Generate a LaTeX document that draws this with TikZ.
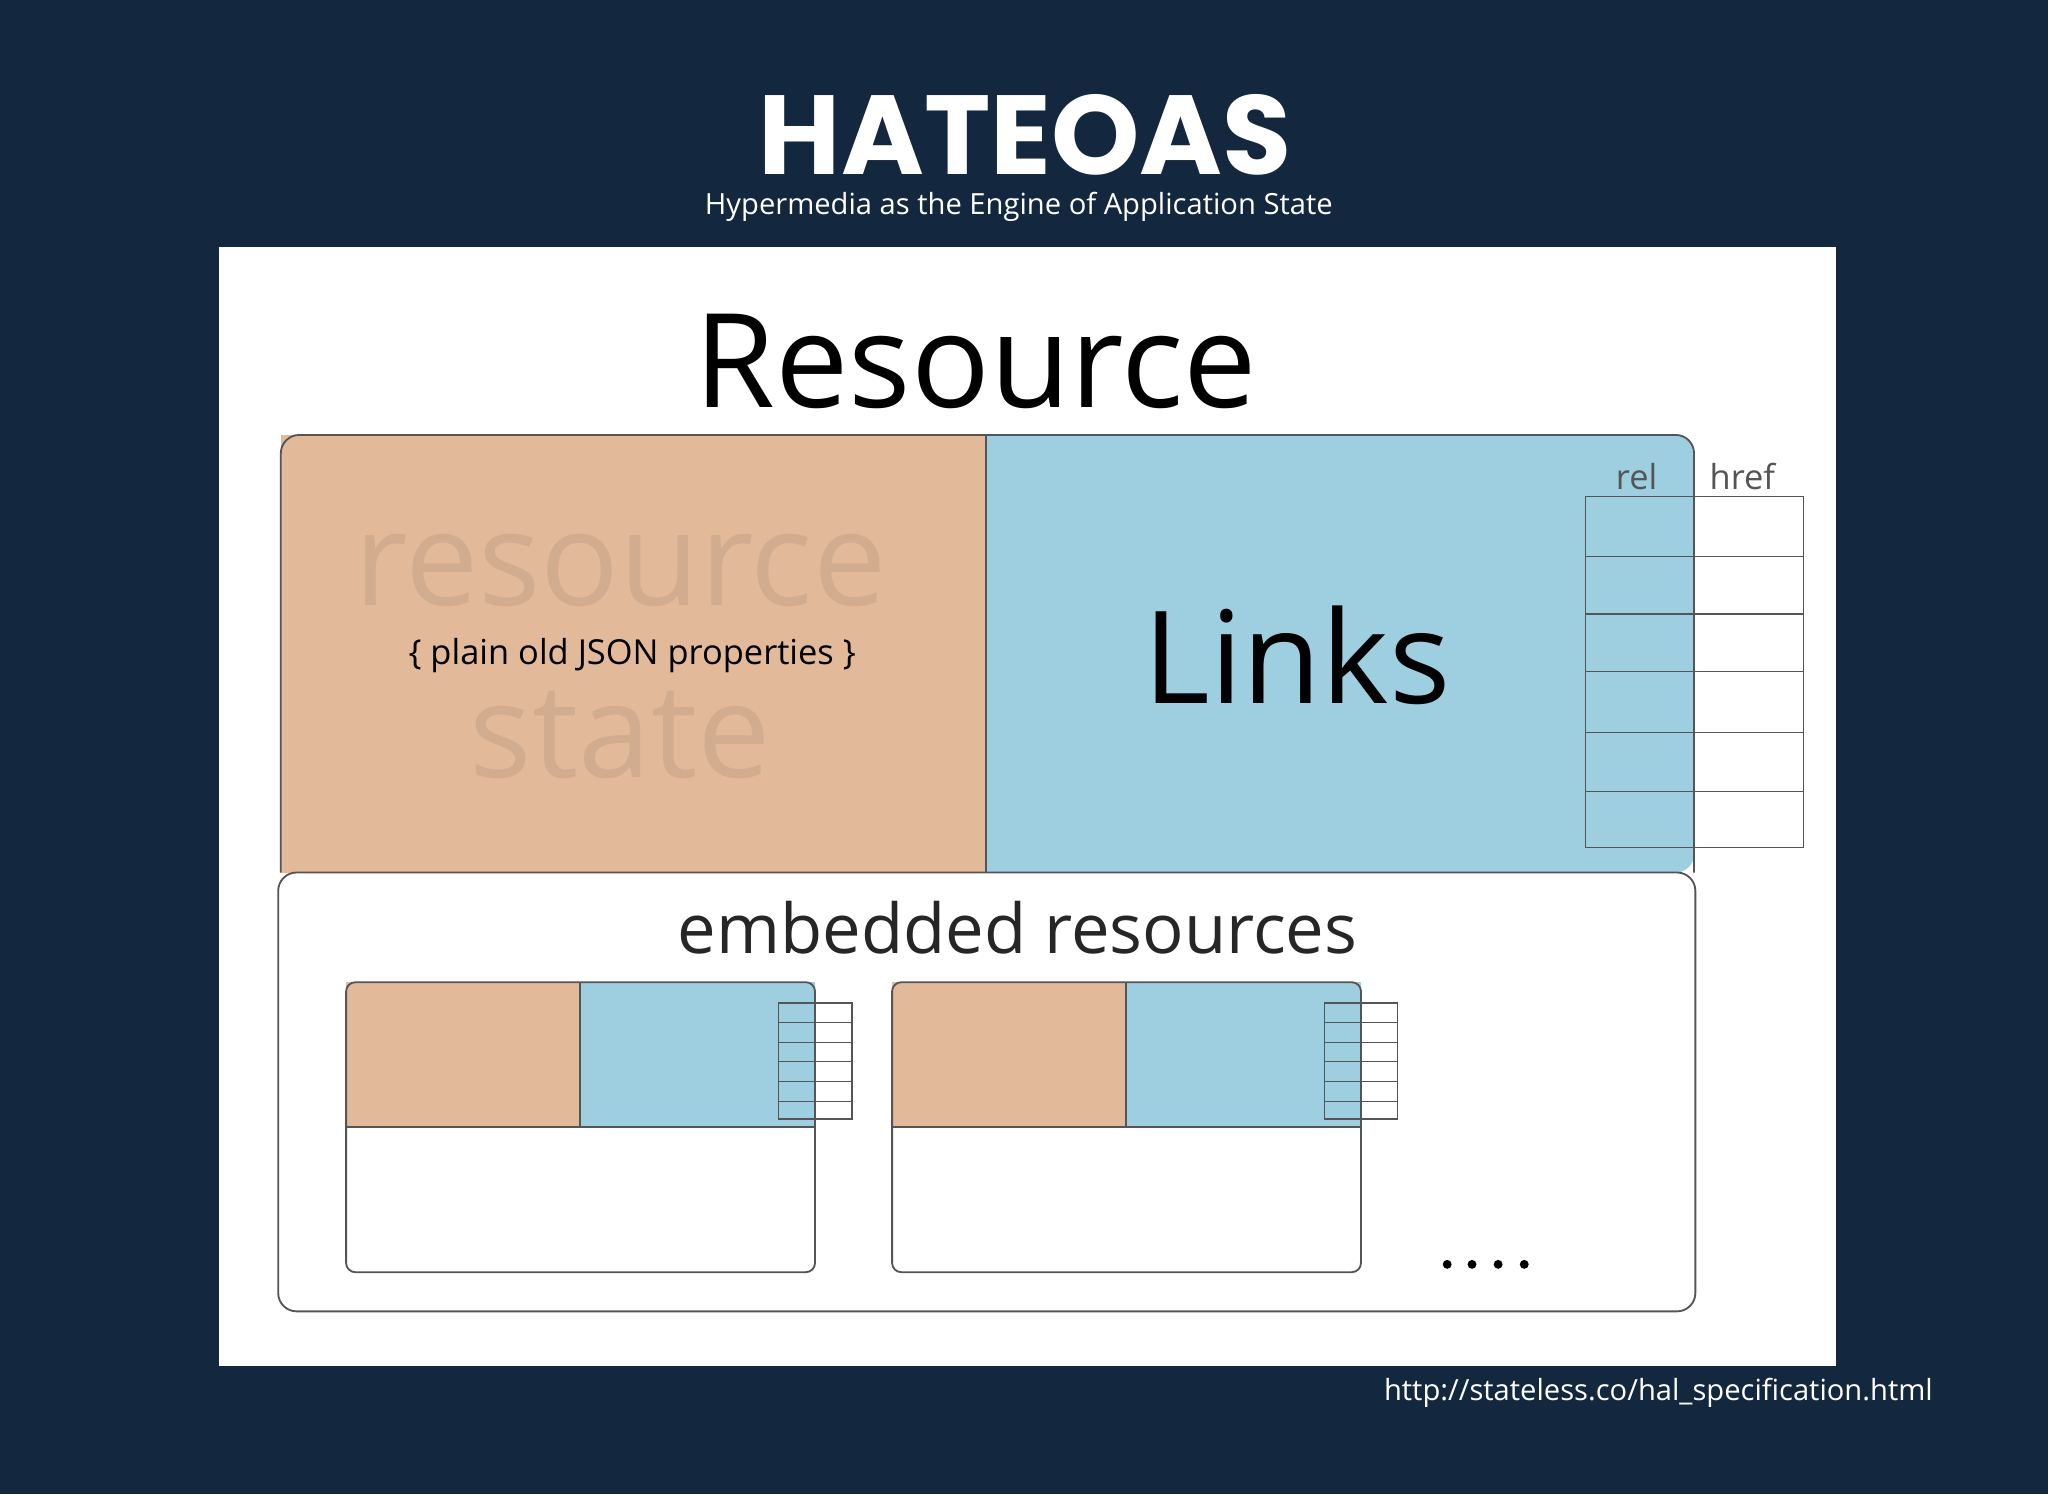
\documentclass[tikz,border=0pt]{standalone}
\usepackage{fontspec}
\setmainfont{Open Sans}
\newfontfamily\titlefont{Poppins}
\definecolor{navy}{HTML}{13283F}
\definecolor{tan}{HTML}{E2BA9A}
\definecolor{sky}{HTML}{9DCFE1}
\definecolor{faded}{HTML}{D2AC8E}
\definecolor{edge}{HTML}{555555}
\begin{document}
\begin{tikzpicture}[x=0.02cm,y=-0.02cm,
  cell/.style={draw=edge,line width=0.6pt},
  thin/.style={draw=edge,line width=0.8pt}]
\fill[navy] (0,0) rectangle (1568,1144);
\useasboundingbox (0,0) rectangle (1568,1144);
\node[text=white,font=\titlefont\bfseries\fontsize{49}{51}\selectfont] (title) at (785,103) {HATEOAS};
\node[text=white,font=\fontsize{12.7}{14}\selectfont] (sub) at (780,158) {Hypermedia as the Engine of Application State};
\fill[white] (168,189) rectangle (1406,1046);
\node[font=\fontsize{57}{59}\selectfont] (res) at (747,277) {Resource};
% main boxes
\fill[tan] (215,333) rectangle (755,668);
\fill[sky,rounded corners=8] (755,333) -- (1297,333) -- (1297,668) -- (755,668) -- cycle;
\fill[sky] (755,333) rectangle (1280,668);
\draw[thin,rounded corners=8] (215,668) -- (215,333) -- (1297,333) -- (1297,668);
\draw[thin] (755,333) -- (755,668);
\draw[thin,rounded corners=8] (213,668) -- (213,1004) -- (1298,1004) -- (1298,668) -- cycle;
\node[text=faded,font=\fontsize{57}{59}\selectfont] (rs) at (475,437) {resource};
\node[text=faded,font=\fontsize{57}{59}\selectfont] (st) at (475,563) {state};
\node[font=\fontsize{15}{17}\selectfont] (json) at (484,502) {\{ plain old JSON properties \}};
\node[font=\fontsize{56}{58}\selectfont] (links) at (993,502) {Links};
\node[text=edge,font=\fontsize{15}{17}\selectfont] (rel) at (1253,365) {rel};
\node[text=edge,font=\fontsize{15}{17}\selectfont] (href) at (1334,365) {href};
\foreach \y in {380,426,470,514,561,606,649} \draw[cell] (1214,\y) -- (1381,\y);
\foreach \x in {1214,1297,1381} \draw[cell] (\x,380) -- (\x,649);
\node[font=\fontsize{30}{32}\selectfont,text=black!85] (emb) at (779,710) {embedded resources};
% small boxes
\foreach \ox/\nm in {265/a,683/b}{
  \fill[tan] (\ox,752) rectangle (\ox+179,863);
  \fill[sky] (\ox+179,752) rectangle (\ox+359,863);
  \draw[thin,rounded corners=4] (\ox,752) rectangle (\ox+359,974);
  \draw[thin] (\ox,863) -- (\ox+359,863);
  \draw[thin] (\ox+179,752) -- (\ox+179,863);
  \foreach \y in {768,783,798,813,828,843,857} \draw[line width=0.4pt,draw=edge] (\ox+331,\y) -- (\ox+387,\y);
  \draw[line width=0.8pt,draw=edge] (\ox+331,768) rectangle (\ox+387,857);
  \draw[line width=0.4pt,draw=edge] (\ox+359,768) -- (\ox+359,857);
}
\foreach \x in {1108,1127,1147,1167} \fill[black] (\x,968) circle (3.4);
\node[anchor=east,text=white,font=\fontsize{12.7}{15}\selectfont] (url) at (1486,1066) {http://stateless.co/hal\_specification.html};
\end{tikzpicture}
\end{document}
